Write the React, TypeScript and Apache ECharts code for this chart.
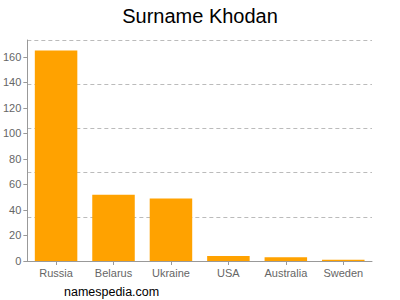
import React, { useEffect, useRef } from "react";
import * as echarts from "echarts";

const categories = ["Russia", "Belarus", "Ukraine", "USA", "Australia", "Sweden"];
const values = [165, 52, 49, 4, 3, 1];
const yTickLabels = [0, 20, 40, 60, 80, 100, 120, 140, 160];
const yMax = 173.3;

export default function App() {
  const ref = useRef<HTMLDivElement>(null);
  useEffect(() => {
    const chart = echarts.init(ref.current!, null, { renderer: "svg" });
    const font = "Liberation Sans, Arial, sans-serif";
    chart.setOption({
      animation: false,
      title: {
        text: "Surname Khodan",
        left: "center",
        top: 1,
        textStyle: { fontFamily: font, fontSize: 20, fontWeight: "normal", color: "#000" },
      },
      graphic: [
        {
          type: "text",
          left: 64,
          top: 285,
          style: { text: "namespedia.com", fontFamily: font, fontSize: 12.5, fill: "#000" },
        },
      ],
      grid: { left: 24, right: 28, top: 40, bottom: 39, containLabel: false },
      xAxis: {
        type: "category",
        data: categories,
        axisLine: { show: true, lineStyle: { color: "#999", width: 1 } },
        axisTick: { show: true, alignWithLabel: true, length: 4, lineStyle: { color: "#999" } },
        axisLabel: { color: "#666", fontFamily: font, fontSize: 11, margin: 6 },
        splitLine: { show: false },
      },
      yAxis: [
        {
          type: "value",
          min: 0,
          max: yMax,
          interval: 20,
          axisLine: { show: true, lineStyle: { color: "#999", width: 1 } },
          axisTick: {
            show: true,
            length: 4,
            lineStyle: { color: "#999" },
            customValues: yTickLabels,
          },
          axisLabel: {
            color: "#666",
            fontFamily: font,
            fontSize: 11,
            margin: 6,
            customValues: yTickLabels,
          },
          splitLine: { show: false },
        },
        {
          type: "value",
          min: 0,
          max: yMax,
          interval: yMax / 5,
          position: "left",
          axisLine: { show: false },
          axisTick: { show: false },
          axisLabel: { show: false },
          splitLine: { show: true, lineStyle: { color: "#bbb", type: [4, 3], width: 1 } },
        },
      ],
      series: [
        {
          type: "bar",
          data: values,
          yAxisIndex: 0,
          barWidth: "74%",
          itemStyle: { color: "#FFA200" },
        },
      ],
    });
    return () => chart.dispose();
  }, []);
  return <div ref={ref} style={{ width: 400, height: 300, position: "absolute", left: 0, top: 0 }} />;
}
